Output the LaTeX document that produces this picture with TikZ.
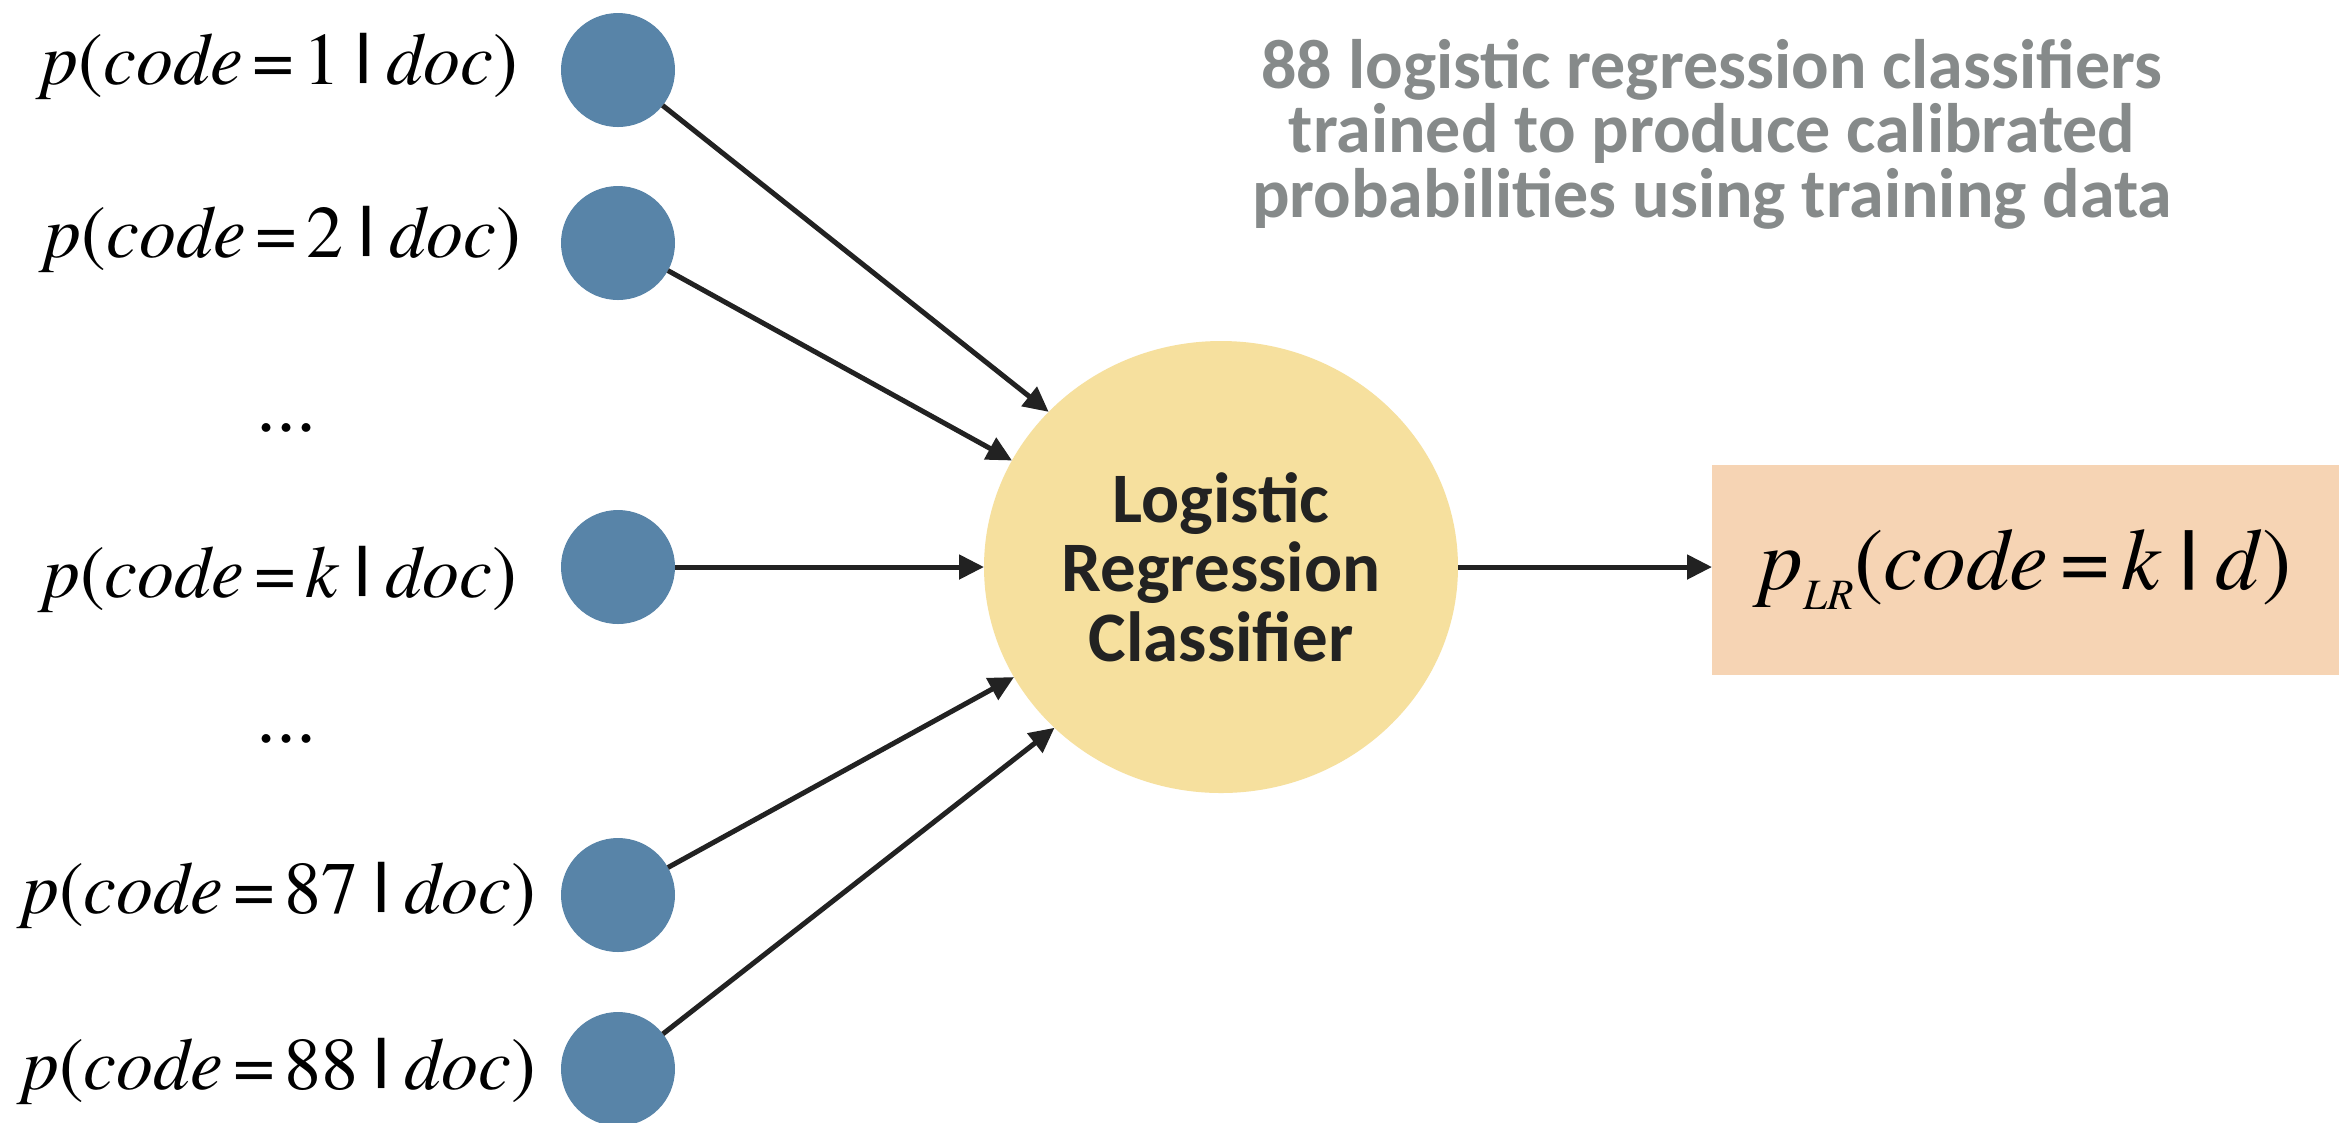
\documentclass[tikz,border=0pt]{standalone}
\usepackage{fontspec}
\usepackage{graphicx}
\newfontfamily\timesfont{texgyretermes}[Extension=.otf, UprightFont=*-regular,
  ItalicFont=*-italic, BoldFont=*-bold, BoldItalicFont=*-bolditalic]
\newfontfamily\calibrifont{Carlito}
\usetikzlibrary{arrows.meta,shapes.geometric}

\definecolor{inblue}{RGB}{88,132,168}
\definecolor{lryellow}{RGB}{246,224,158}
\definecolor{outpeach}{RGB}{246,212,180}
\definecolor{notegray}{RGB}{134,138,138}
\definecolor{ink}{RGB}{34,34,34}

% spacing and conditioning bar used in the probability expressions
\newcommand\eqs{\hspace{0.13em}=\hspace{0.13em}}
\newcommand\condbar{\hspace{0.2em}\resizebox{\width}{0.68em}{\bfseries\raisebox{\depth}{|}}\hspace{0.2em}}
\newcommand\plabel[1]{\textit{p}(\textit{code}\eqs#1\condbar\textit{doc})}

\begin{document}
\begin{tikzpicture}[x=0.3pt,y=-0.3pt,
  input/.style={circle, fill=inblue, minimum size=34.2pt, inner sep=0pt, outer sep=0pt},
  plab/.style={anchor=base, inner sep=0pt, font=\timesfont\fontsize{22.2}{27}\selectfont},
  dotrow/.style={anchor=base, inner sep=0pt, font=\timesfont\fontsize{24}{28}\selectfont},
  feed/.style={draw=ink, line width=1.5pt, -{Triangle[length=7.5pt,width=7.2pt]}},
]
\fill[white] (0,0) rectangle (2339,1122);
\useasboundingbox (0,0) rectangle (2339,1122);

% input probabilities
\node[input] (c1)  at (618,70)   {};
\node[input] (c2)  at (618,243)  {};
\node[input] (ck)  at (618,567)  {};
\node[input] (c87) at (618,895)  {};
\node[input] (c88) at (618,1069) {};

\node[plab] (l1)  at (280,84)   {\plabel{1}};
\node[plab] (l2)  at (283,257)  {\plabel{2}};
\node[plab] (lk)  at (280,597)  {\plabel{\textit{k}}};
\node[plab] (l87) at (279,913)  {\plabel{87}};
\node[plab] (l88) at (279,1089) {\plabel{88}};

\node[dotrow] (dots1) at (286,431) {...};
\node[dotrow] (dots2) at (286,742) {...};

% combining classifier
\node[ellipse, fill=lryellow, minimum width=142.2pt, minimum height=135.6pt,
      inner sep=0pt, outer sep=0pt, text=ink, align=center,
      font=\calibrifont\bfseries\fontsize{21.3}{20.85}\selectfont]
      (lr) at (1221,567) {Logistic\\Regression\\Classifier};

% note
\node[text=notegray, align=center, inner sep=0pt,
      font=\calibrifont\bfseries\fontsize{21}{19.35}\selectfont]
      (note) at (1712,134) {88 logistic regression classifiers\\trained to produce calibrated\\probabilities using training data};

% output
\node[fill=outpeach, minimum width=188.1pt, minimum height=63pt,
      inner sep=0pt, outer sep=0pt, font=\timesfont\fontsize{26.3}{31}\selectfont]
      (out) at (2025.5,570)
      {\textit{p}\raisebox{-6pt}{\fontsize{13}{15}\selectfont\textit{LR}}(\textit{code}\eqs\textit{k}\condbar\textit{d})};

% connectors
\draw[feed] (c1)  -- (lr.138);
\draw[feed] (c2)  -- (lr.153);
\draw[feed] (ck)  -- (lr.180);
\draw[feed] (c87) -- (lr.208);
\draw[feed] (c88) -- (lr.224);
\draw[feed] (lr.east) -- (lr.east -| out.west);
\end{tikzpicture}
\end{document}
